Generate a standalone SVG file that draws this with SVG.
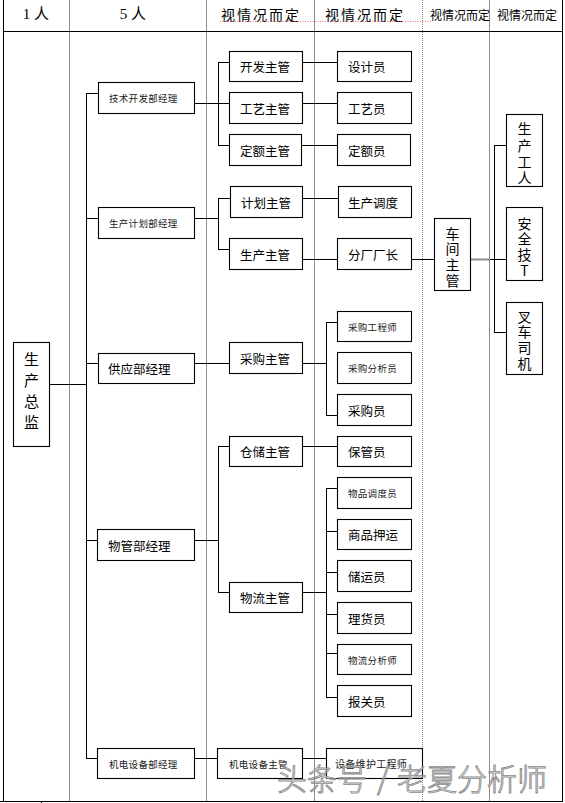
<svg xmlns="http://www.w3.org/2000/svg" width="565" height="803" viewBox="0 0 565 803">
<style>
text{font-family:"Noto Sans CJK SC","Liberation Sans",sans-serif;fill:#000;dominant-baseline:central}
.b{fill:#fff;stroke:#000;stroke-width:1.1}
.L{font-size:12.5px}
.S{font-size:9.5px;letter-spacing:0.3px;fill:#222}
.V{font-size:14px;text-anchor:middle;writing-mode:vertical-rl;text-orientation:upright;letter-spacing:1.7px}
.c{fill:none;stroke:#000;stroke-width:1}
.g{fill:none;stroke:#8c8c8c;stroke-width:1}
.hd{font-family:"Liberation Serif","Noto Sans CJK SC",serif;font-size:15px;text-anchor:middle}
.h2{font-size:14px;letter-spacing:2px;text-anchor:middle}
.h3{font-size:12px;text-anchor:middle}
.wm{font-size:30px;fill:#fff;fill-opacity:0.55;stroke:#8a8a8a;stroke-width:0.9;font-weight:300}
</style>
<rect width="565" height="803" fill="#fff"/>
<g id="table">
<path class="g" d="M69.5 0V801M206.5 0V801M314.5 0V801M489.5 0V801"/>
<path d="M422.5 0V801" fill="none" stroke="#888" stroke-width="1" stroke-dasharray="1,1"/>
<path class="c" d="M3.5 0V801.5M562.5 0V801.5M3 31.5H563M0 801.5H563M41.5 801V803"/>
<text class="hd" x="36" y="14">1 人</text>
<text class="hd" x="133" y="14">5 人</text>
<text class="h2" x="261" y="14">视情况而定</text>
<text class="h2" x="365" y="14">视情况而定</text>
<text class="h3" x="460" y="14">视情况而定</text>
<text class="h3" x="527" y="14">视情况而定</text>
<path d="M220 21.5H431" fill="none" stroke="#e05050" stroke-width="1" stroke-dasharray="1,1.5" opacity="0.8"/>
</g>
<g id="connectors">
<path class="c" d="M86.5 93V758.5M86 93.5H98M86 218.5H98M86 363.5H98M86 540.5H98M86 758.5H97M49 384.5H86"/>
<path class="c" d="M194 103.5H218.5M218.5 62V145M218 62.5H229M218 103.5H229M218 145.5H229"/>
<path class="c" d="M194 218.5H218.5M218.5 198V249M218 198.5H230M218 249.5H229"/>
<path class="c" d="M302 62.5H337M302 103.5H337M301 145.5H337M302 198.5H338M302 259.5H337M411 259.5H434"/>
<path class="c" d="M194 363.5H229M302 363.5H327M326.5 322V415M326 322.5H337M326 415.5H337"/>
<path class="c" d="M194 540.5H218.5M218.5 446V592.5M218 446.5H229M218 592.5H229M302 446.5H337"/>
<path class="c" d="M302 592.5H327M326.5 488V697M326 488.5H337M326 531.5H337M326 572.5H337M326 614.5H337M326 653.5H337M326 697.5H337"/>
<path class="c" d="M194 758.5H217M302 758.5H326"/>
<path d="M470 259.5H490" fill="none" stroke="#8c8c8c" stroke-width="2"/>
<path class="c" d="M490 259.5H506M494.5 145V333M494 145.5H506M494 332.5H506"/>
</g>
<g id="n-zongjian"><rect class="b" x="13.5" y="342.5" width="36" height="104"/><text class="V" style="font-size:15px;letter-spacing:6px" x="31.5" y="393.5">生产总监</text></g>
<g id="n-jishu"><rect class="b" x="98.5" y="82.5" width="96" height="31"/><text class="S" x="109" y="98">技术开发部经理</text></g>
<g id="n-jihua"><rect class="b" x="98.5" y="207.5" width="96" height="31"/><text class="S" x="109" y="223">生产计划部经理</text></g>
<g id="n-gongying"><rect class="b" x="98.5" y="353.5" width="96" height="30"/><text class="L" x="108" y="368.5">供应部经理</text></g>
<g id="n-wuguan"><rect class="b" x="97.5" y="529.5" width="97" height="31"/><text class="L" x="108" y="545">物管部经理</text></g>
<g id="n-jidian"><rect class="b" x="97.5" y="748.5" width="97" height="30"/><text class="S" x="109" y="763.5">机电设备部经理</text></g>
<g id="n-kaifa"><rect class="b" x="229.5" y="51.5" width="73" height="30"/><text class="L" x="240" y="66.5">开发主管</text></g>
<g id="n-gongyi"><rect class="b" x="229.5" y="92.5" width="73" height="31"/><text class="L" x="240" y="108">工艺主管</text></g>
<g id="n-dinge"><rect class="b" x="229.5" y="134.5" width="72" height="31"/><text class="L" x="240" y="150">定额主管</text></g>
<g id="n-jihuazg"><rect class="b" x="230.5" y="186.5" width="72" height="31"/><text class="L" x="241" y="202">计划主管</text></g>
<g id="n-shengchan"><rect class="b" x="229.5" y="238.5" width="73" height="31"/><text class="L" x="240" y="254">生产主管</text></g>
<g id="n-caigou"><rect class="b" x="229.5" y="342.5" width="73" height="31"/><text class="L" x="240" y="358">采购主管</text></g>
<g id="n-cangchu"><rect class="b" x="229.5" y="436.5" width="73" height="30"/><text class="L" x="240" y="451.5">仓储主管</text></g>
<g id="n-wuliu"><rect class="b" x="229.5" y="582.5" width="73" height="30"/><text class="L" x="240" y="597.5">物流主管</text></g>
<g id="n-jidianzg"><rect class="b" x="217.5" y="748.5" width="85" height="30"/><text class="S" x="229" y="763.5">机电设备主管</text></g>
<g id="n-sheji"><rect class="b" x="337.5" y="51.5" width="74" height="30"/><text class="L" x="348" y="66.5">设计员</text></g>
<g id="n-gongyiyuan"><rect class="b" x="337.5" y="92.5" width="74" height="31"/><text class="L" x="348" y="108">工艺员</text></g>
<g id="n-dingeyuan"><rect class="b" x="337.5" y="134.5" width="73" height="31"/><text class="L" x="348" y="150">定额员</text></g>
<g id="n-diaodu"><rect class="b" x="338.5" y="186.5" width="73" height="31"/><text class="L" x="348" y="202">生产调度</text></g>
<g id="n-fenchang"><rect class="b" x="337.5" y="238.5" width="74" height="31"/><text class="L" x="348" y="254">分厂厂长</text></g>
<g id="n-cggcs"><rect class="b" x="337.5" y="311.5" width="74" height="30"/><text class="S" x="348" y="326.5">采购工程师</text></g>
<g id="n-cgfxy"><rect class="b" x="337.5" y="352.5" width="74" height="31"/><text class="S" x="348" y="368">采购分析员</text></g>
<g id="n-cgy"><rect class="b" x="337.5" y="394.5" width="74" height="31"/><text class="L" x="348" y="410">采购员</text></g>
<g id="n-baoguan"><rect class="b" x="337.5" y="436.5" width="74" height="30"/><text class="L" x="348" y="451.5">保管员</text></g>
<g id="n-wpddy"><rect class="b" x="337.5" y="477.5" width="74" height="31"/><text class="S" x="348" y="493">物品调度员</text></g>
<g id="n-yayun"><rect class="b" x="337.5" y="519.5" width="74" height="30"/><text class="L" x="348" y="534.5">商品押运</text></g>
<g id="n-chuyun"><rect class="b" x="337.5" y="560.5" width="74" height="31"/><text class="L" x="348" y="576">储运员</text></g>
<g id="n-lihuo"><rect class="b" x="337.5" y="602.5" width="74" height="31"/><text class="L" x="348" y="618">理货员</text></g>
<g id="n-wlfxs"><rect class="b" x="337.5" y="644.5" width="74" height="30"/><text class="S" x="348" y="659.5">物流分析师</text></g>
<g id="n-baoguanyuan"><rect class="b" x="337.5" y="685.5" width="74" height="31"/><text class="L" x="348" y="701">报关员</text></g>
<g id="n-weihu"><rect class="b" x="326.5" y="748.5" width="96" height="30"/><text class="S" style="font-size:10px" x="335" y="763.5">设备维护工程师</text></g>
<g id="n-chejian"><rect class="b" x="434.5" y="218.5" width="36" height="72"/><text class="V" x="452.5" y="257.8">车间主管</text></g>
<g id="n-gongren"><rect class="b" x="506.5" y="114.5" width="36" height="72"/><text class="V" style="letter-spacing:2.3px" x="524.5" y="154.7">生产工人</text></g>
<g id="n-anquan"><rect class="b" x="506.5" y="207.5" width="36" height="73"/><text class="V" x="524.5" y="247.8">安全技T</text></g>
<g id="n-chache"><rect class="b" x="506.5" y="302.5" width="36" height="72"/><text class="V" x="524.5" y="340.8">叉车司机</text></g>
<g id="watermark">
<text class="wm" x="277" y="777">头条号</text>
<text class="wm" x="383" y="777" style="text-anchor:middle">/</text>
<text class="wm" x="397" y="777">老夏分析师</text>
</g>
</svg>
